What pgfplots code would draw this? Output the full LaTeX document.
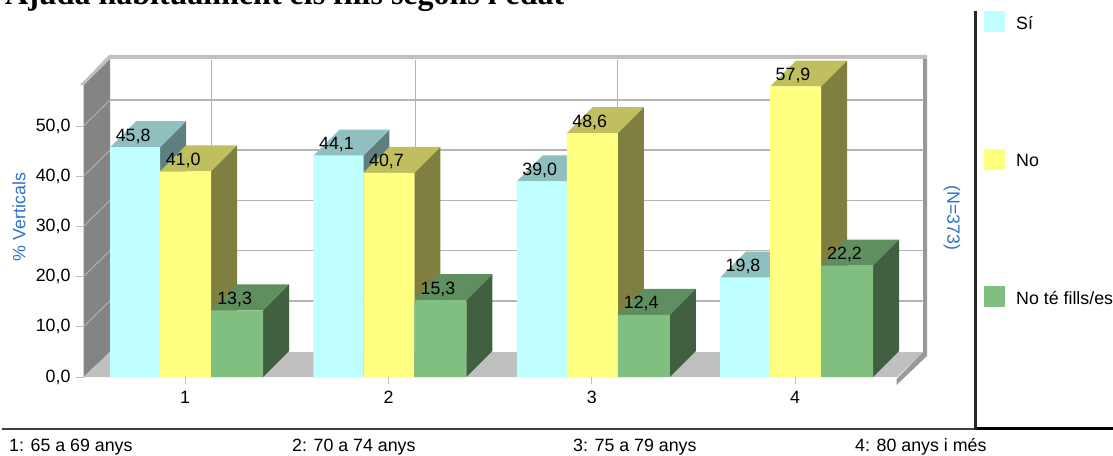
\documentclass[border=0pt]{standalone}
\usepackage{fontspec}
\setmainfont{Liberation Sans}
\newfontfamily\ttl{Liberation Serif}
\usepackage{pgfplots}
\pgfplotsset{compat=1.18}
\definecolor{cS}{HTML}{BFFFFF}\definecolor{cSt}{HTML}{8FBFBF}\definecolor{cSs}{HTML}{5F7F7F}
\definecolor{cN}{HTML}{FFFF80}\definecolor{cNt}{HTML}{BFBF5F}\definecolor{cNs}{HTML}{7F7F40}
\definecolor{cF}{HTML}{80BF80}\definecolor{cFt}{HTML}{5F8F5F}\definecolor{cFs}{HTML}{406040}
\definecolor{wall}{HTML}{848484}\definecolor{floorc}{HTML}{C0C0C0}\definecolor{frame}{HTML}{999999}
\definecolor{gridc}{HTML}{B4B4B4}\definecolor{lab}{HTML}{2A72C8}
\newcommand\fnt{\fontsize{17.8}{20}\selectfont}
\newcommand\solid[6]{%
  \pgfmathsetmacro\xa{#1+#3}\pgfmathsetmacro\xb{#1+#4}%
  \pgfmathsetmacro\xc{\xa+0.1279}\pgfmathsetmacro\xd{\xb+0.1279}%
  \pgfmathsetmacro\yt{#2+5.18}%
  \addplot[forget plot,fill=#6,draw=none] coordinates {(\xb,0)(\xb,#2)(\xd,\yt)(\xd,5.18)};
  \addplot[forget plot,fill=#5,draw=none] coordinates {(\xa,#2)(\xb,#2)(\xd,\yt)(\xc,\yt)};
}
\pgfplotsset{
  /pgf/number format/.cd,fixed,fixed zerofill,precision=1,use comma,assume math mode=true,
  /pgfplots/.cd,
  front/.style={ybar,draw=none,bar width=#1,nodes near coords,
    legend image code/.code={\fill[##1] (0pt,-8.5pt) rectangle (21pt,12.5pt);\path (30pt,0pt);}},
}
\begin{document}
\begin{tikzpicture}[x=1pt,y=1pt]
\def\PX#1#2{({#1-83.5},{377-(#2)})}
\path[use as bounding box] \PX{0}{0} rectangle \PX{1113}{455};
\clip \PX{0}{0} rectangle \PX{1113}{455};
% title
\node[anchor=base west,inner sep=0pt,font=\ttl\bfseries\fontsize{32}{36}\selectfont] at \PX{5}{5} {Ajuda habitualment els fills segons l'edat};
% walls
\fill[wall] \PX{83.5}{85} -- \PX{110}{59} -- \PX{110}{352} -- \PX{83.5}{377} -- cycle;
\fill[floorc] \PX{83.5}{377} -- \PX{110}{352} -- \PX{923}{352} -- \PX{897}{377} -- cycle;
\foreach \v in {10,20,30,40,50} {
  \pgfmathsetmacro\yy{377-5.02*\v}
  \draw[gridc,line width=0.9pt] \PX{83.5}{\yy} -- \PX{110}{\yy-26};
}
\foreach \v in {10,20,30,40,50} {
  \pgfmathsetmacro\yy{351-5.02*\v}
  \draw[gridc,line width=1.5pt] \PX{110}{\yy} -- \PX{923}{\yy};
}
\foreach \xx in {211.5,415.5,617.5} \draw[gridc,line width=1.5pt] \PX{\xx}{60} -- \PX{\xx}{352};
\fill[floorc] \PX{80}{85} -- \PX{109}{55} -- \PX{927}{55} -- \PX{927}{59} -- \PX{110}{59} -- \PX{84}{85} -- cycle;
\fill[frame] \PX{923}{59} -- \PX{927}{59} -- \PX{927}{356} -- \PX{896.5}{385} -- \PX{896.5}{379} -- \PX{923}{352} -- cycle;
% rules
\draw[black!75,line width=2pt] \PX{2}{428.5} -- \PX{975}{428.5};
\draw[black,line width=2.4pt] \PX{975}{428.5} -- \PX{1113}{428.5};
\draw[black!85,line width=2.4pt] \PX{975.5}{11} -- \PX{975.5}{429};
% blue note
\node[rotate=-90,font=\fnt,text=lab,inner sep=0pt] at \PX{952}{218} {(N=373)};
% bottom
\foreach \xx/\t in {9/{1: 65 a 69 anys},292/{2: 70 a 74 anys},573/{3: 75 a 79 anys},855/{4: 80 anys i més}}
  \node[anchor=base west,inner sep=0pt,font=\fnt] at \PX{\xx}{451} {\t};
\begin{axis}[
  at={(0,0)},anchor=origin,
  scale only axis,width=813.2pt,height=292pt,
  xmin=0.5,xmax=4.5,ymin=0,ymax=58.2,clip=false,
  axis x line*=bottom,axis y line*=left,
  axis line style={-,draw=none},
  xtick={1,2,3,4},xticklabels={1,2,3,4},
  ytick={0,10,20,30,40,50},
  tick align=outside,major tick length=7pt,
  tick style={black!25,line width=0.9pt},
  tick label style={font=\fnt},
  xticklabel style={yshift=-4pt},
  yticklabel style={xshift=-2.5pt},
  ylabel={\% Verticals},
  ylabel style={font=\fnt,text=lab,at={(axis description cs:-0.0793,0.548)},anchor=center},
  every node near coord/.append style={font=\fnt,anchor=center,yshift=11pt,inner sep=0pt},
  legend style={at={(axis description cs:1.1073,1.2534)},anchor=north west,draw=none,fill=none,
    inner sep=0pt,row sep=116pt,font=\fnt,cells={anchor=west}},
  legend cell align=left,
]
\solid{1}{45.8}{-0.3689}{-0.1230}{cSt}{cSs}
\solid{2}{44.1}{-0.3689}{-0.1230}{cSt}{cSs}
\solid{3}{39.0}{-0.3689}{-0.1230}{cSt}{cSs}
\solid{4}{19.8}{-0.3689}{-0.1230}{cSt}{cSs}
\addplot[front=50pt,bar shift=-50pt,fill=cS,nodes near coords style={xshift=-52pt}] coordinates {(1,45.8)(2,44.1)(3,39.0)(4,19.8)};
\addlegendentry{Sí}
\solid{1}{41.0}{-0.1230}{0.1279}{cNt}{cNs}
\solid{2}{40.7}{-0.1230}{0.1279}{cNt}{cNs}
\solid{3}{48.6}{-0.1230}{0.1279}{cNt}{cNs}
\solid{4}{57.9}{-0.1230}{0.1279}{cNt}{cNs}
\addplot[front=51pt,bar shift=0.5pt,fill=cN,nodes near coords style={xshift=-2pt}] coordinates {(1,41.0)(2,40.7)(3,48.6)(4,57.9)};
\addlegendentry{No}
\solid{1}{13.3}{0.1279}{0.3837}{cFt}{cFs}
\solid{2}{15.3}{0.1279}{0.3837}{cFt}{cFs}
\solid{3}{12.4}{0.1279}{0.3837}{cFt}{cFs}
\solid{4}{22.2}{0.1279}{0.3837}{cFt}{cFs}
\addplot[front=52pt,bar shift=52pt,fill=cF,nodes near coords style={xshift=49.5pt}] coordinates {(1,13.3)(2,15.3)(3,12.4)(4,22.2)};
\addlegendentry{No té fills/es}
\end{axis}
\end{tikzpicture}
\end{document}
